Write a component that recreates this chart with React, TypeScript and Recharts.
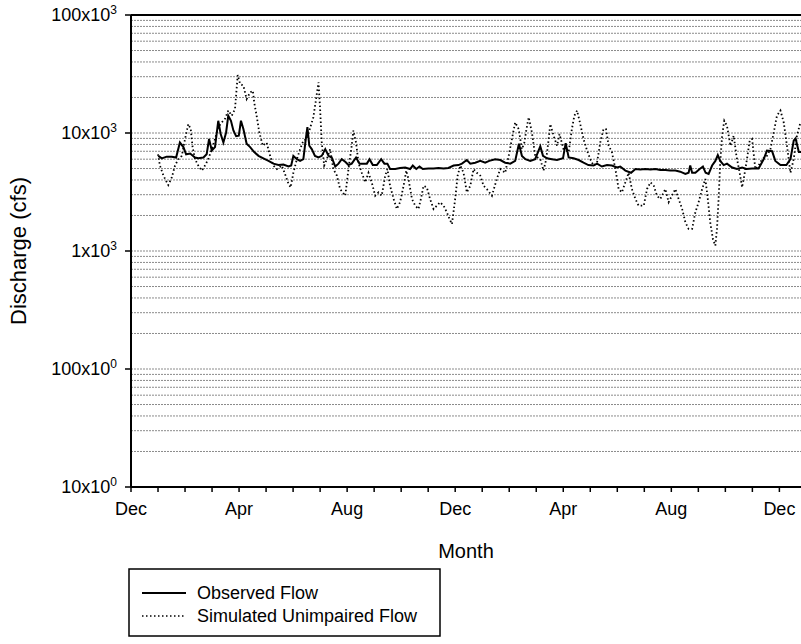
import { LineChart, Line, XAxis, YAxis, ReferenceLine, Label } from 'recharts';

const FONT = '"Liberation Sans", Arial, Helvetica, sans-serif';

// months since the first Dec tick
const obsMonth = [
  1.01, 1.14, 1.32, 1.51, 1.67, 1.81, 1.94, 2.04, 2.19, 2.37, 2.49, 2.68, 2.8, 2.89, 2.99, 3.11, 3.23, 3.32, 3.42, 3.52,
  3.6, 3.7, 3.79, 3.89, 3.99, 4.07, 4.16, 4.28, 4.41, 4.56, 4.72, 4.9, 5.09, 5.27, 5.46, 5.64, 5.83, 5.93, 6.01, 6.14,
  6.26, 6.38, 6.47, 6.53, 6.6, 6.69, 6.81, 6.94, 7.06, 7.19, 7.31, 7.43, 7.56, 7.68, 7.8, 7.93, 8.05, 8.17, 8.33, 8.46,
  8.6, 8.73, 8.83, 8.95, 9.1, 9.26, 9.38, 9.49, 9.59, 9.78, 9.96, 10.15, 10.33, 10.43, 10.56, 10.68, 10.8, 11.01, 11.2, 11.38,
  11.57, 11.75, 11.94, 12.12, 12.25, 12.43, 12.56, 12.74, 12.93, 13.11, 13.26, 13.48, 13.67, 13.85, 14.04, 14.22, 14.36, 14.47, 14.6, 14.78,
  14.96, 15.15, 15.25, 15.4, 15.58, 15.77, 15.99, 16.09, 16.2, 16.38, 16.57, 16.75, 16.93, 17.12, 17.25, 17.43, 17.62, 17.8, 17.99, 18.11,
  18.3, 18.51, 18.67, 18.85, 19.04, 19.23, 19.41, 19.59, 19.78, 19.96, 20.15, 20.33, 20.52, 20.64, 20.7, 20.77, 20.89, 21.05, 21.17, 21.27,
  21.38, 21.51, 21.63, 21.72, 21.81, 21.94, 22.06, 22.25, 22.43, 22.62, 22.78, 22.99, 23.23, 23.42, 23.54, 23.73, 23.85, 24.04, 24.26, 24.41,
  24.53, 24.6, 24.72, 24.81,
];
const obsFlow = [
  6400, 6100, 6300, 6300, 6200, 8300, 7600, 6600, 6700, 6200, 6100, 6200, 6600, 8900, 7100, 7600, 12700, 9800, 8300, 10100,
  14000, 12700, 10500, 9400, 9500, 12700, 10800, 8100, 7600, 6900, 6400, 6100, 5800, 5500, 5350, 5400, 5200, 5300, 6400, 6000,
  5800, 6000, 8900, 11200, 7800, 7300, 6400, 6200, 6400, 7300, 6400, 6200, 5200, 5500, 6000, 5700, 5350, 5500, 6200, 5500,
  5500, 5500, 6000, 5350, 5350, 6000, 5500, 5500, 4950, 4950, 5050, 5100, 4950, 5300, 4950, 5200, 4950, 5000, 5000, 5050,
  5000, 5050, 5300, 5350, 5500, 5900, 5500, 5600, 5800, 5600, 5800, 6000, 5900, 5600, 5500, 5800, 8100, 6400, 6000, 5800,
  6000, 7700, 6400, 6100, 6000, 5900, 6100, 8200, 6200, 6100, 5900, 5600, 5350, 5300, 5500, 5200, 5350, 5300, 5100, 5200,
  4800, 4600, 4950, 4900, 4950, 4900, 4950, 4850, 4850, 4800, 4800, 4700, 4500, 4600, 5300, 4600, 4600, 4950, 5200, 4600,
  4500, 5300, 5800, 6500, 5800, 5350, 5500, 5100, 4950, 5100, 4950, 5000, 5000, 6000, 7100, 7000, 5800, 5350, 5350, 6000,
  8600, 9000, 6900, 6900,
];

const simMonth = [
  1.0, 1.07, 1.2, 1.38, 1.51, 1.63, 1.75, 1.88, 2.0, 2.12, 2.21, 2.28, 2.37, 2.49, 2.62, 2.74, 2.86, 2.99, 3.11, 3.23,
  3.36, 3.48, 3.6, 3.73, 3.85, 3.95, 4.04, 4.16, 4.28, 4.41, 4.51, 4.56, 4.65, 4.75, 4.88, 5.02, 5.15, 5.27, 5.4, 5.58,
  5.7, 5.83, 5.91, 6.01, 6.14, 6.26, 6.38, 6.51, 6.75, 6.85, 6.94, 7.0, 7.06, 7.15, 7.25, 7.37, 7.49, 7.62, 7.74, 7.93,
  8.05, 8.17, 8.23, 8.33, 8.42, 8.54, 8.67, 8.79, 8.91, 9.04, 9.16, 9.28, 9.41, 9.49, 9.59, 9.72, 9.84, 9.96, 10.09, 10.19,
  10.27, 10.4, 10.52, 10.64, 10.73, 10.83, 10.95, 11.07, 11.2, 11.32, 11.44, 11.57, 11.69, 11.79, 11.88, 12.0, 12.09, 12.19, 12.31, 12.43,
  12.56, 12.68, 12.8, 12.93, 13.05, 13.17, 13.36, 13.54, 13.67, 13.85, 13.98, 14.1, 14.22, 14.35, 14.47, 14.56, 14.63, 14.72, 14.84, 14.96,
  15.15, 15.27, 15.37, 15.46, 15.52, 15.64, 15.77, 15.86, 16.01, 16.2, 16.32, 16.41, 16.51, 16.63, 16.75, 16.88, 17.0, 17.12, 17.25, 17.37,
  17.49, 17.58, 17.68, 17.8, 17.93, 18.05, 18.17, 18.3, 18.42, 18.54, 18.67, 18.79, 18.98, 19.1, 19.23, 19.35, 19.47, 19.59, 19.78, 19.9,
  20.02, 20.15, 20.27, 20.4, 20.52, 20.64, 20.77, 20.89, 21.01, 21.14, 21.26, 21.35, 21.44, 21.54, 21.63, 21.69, 21.75, 21.81, 21.88, 21.96,
  22.06, 22.19, 22.31, 22.41, 22.53, 22.62, 22.7, 22.8, 22.9, 22.99, 23.11, 23.23, 23.36, 23.54, 23.67, 23.79, 23.91, 24.04, 24.16, 24.28,
  24.41, 24.53, 24.65, 24.78,
];
const simFlow = [
  6600, 5300, 4350, 3620, 4200, 5300, 6000, 6400, 8900, 11900, 10800, 7600, 6000, 5300, 4800, 5300, 6000, 7300, 8900, 11200,
  12300, 13200, 15500, 14000, 16000, 31000, 26000, 25200, 19400, 22100, 22800, 18200, 14000, 10100, 7800, 8300, 6400, 5300, 4950, 5300,
  4500, 3700, 3460, 4600, 6000, 7300, 8600, 8900, 13600, 19400, 26900, 16000, 8300, 5300, 6000, 7300, 4950, 4350, 3350, 2940,
  4950, 7800, 10500, 8300, 5600, 4600, 3820, 4600, 3820, 2940, 3140, 2940, 4350, 4950, 3570, 2760, 2270, 2590, 3570, 4800,
  4080, 2760, 2420, 2270, 2760, 3570, 3460, 2760, 2270, 2420, 2590, 2420, 2130, 1870, 1690, 2760, 4350, 5300, 4600, 3140,
  3570, 4950, 4600, 4350, 3570, 3350, 2940, 4080, 4950, 4600, 6400, 8900, 12300, 10800, 7300, 8300, 10500, 13600, 10100, 6400,
  6000, 4800, 6000, 8900, 11900, 9500, 7800, 9800, 7300, 6900, 10800, 14000, 15500, 11900, 8900, 7100, 6000, 5300, 5600, 8300,
  10800, 10800, 7800, 6900, 4950, 3350, 3140, 3820, 4600, 3350, 2760, 2420, 2420, 3350, 3820, 3570, 2940, 2760, 3350, 2590,
  2940, 3350, 2760, 2270, 1750, 1540, 1540, 2130, 2590, 3350, 4080, 2760, 1750, 1260, 1110, 1540, 2760, 5600, 9500, 12700,
  11500, 7800, 9500, 6400, 4600, 3460, 4350, 6000, 8600, 8900, 4950, 5300, 6000, 6400, 7300, 10100, 14000, 15500, 12300, 7800,
  4600, 6000, 9500, 12300,
];

const xTicks = [0, 1, 2, 3, 4, 5, 6, 7, 8, 9, 10, 11, 12, 13, 14, 15, 16, 17, 18, 19, 20, 21, 22, 23, 24];
const xMajor = [0, 4, 8, 12, 16, 20, 24];
const xLabels = ['Dec', 'Apr', 'Aug', 'Dec', 'Apr', 'Aug', 'Dec'];

const yTicks = [10, 100, 1000, 10000, 100000];
const yTickBase = ['10x10', '100x10', '1x10', '10x10', '100x10'];
const yTickExp = ['0', '0', '3', '3', '3'];

const gridValues = [
  20, 30, 40, 50, 60, 70, 80, 90, 100,
  200, 300, 400, 500, 600, 700, 800, 900, 1000,
  2000, 3000, 4000, 5000, 6000, 7000, 8000, 9000, 10000,
  20000, 30000, 40000, 50000, 60000, 70000, 80000, 90000,
];

const obsData = obsMonth.map((m, i) => ({ m, flow: obsFlow[i] }));
const simData = simMonth.map((m, i) => ({ m, flow: simFlow[i] }));

function YTick({ x, y, payload }: any) {
  const i = yTicks.indexOf(payload.value);
  if (i < 0) return <g />;
  return (
    <text x={x} y={y} dy={6} textAnchor="end" fontSize={18} fontFamily={FONT} fill="#000">
      {yTickBase[i]}
      <tspan dy={-7} fontSize={12}>{yTickExp[i]}</tspan>
    </text>
  );
}

function XTick({ x, y, payload }: any) {
  const i = xMajor.indexOf(payload.value);
  if (i < 0) return <g />;
  return (
    <text x={x} y={y} dy={21} textAnchor="middle" fontSize={18} fontFamily={FONT} fill="#000">
      {xLabels[i]}
    </text>
  );
}

export default function App() {
  return (
    <div style={{ position: 'absolute', left: 0, top: 0, width: 801, height: 644, background: '#fff' }}>
      <LineChart width={801} height={600} margin={{ top: 15, right: 0, bottom: 33, left: 0 }}>
        <XAxis
          type="number"
          dataKey="m"
          domain={[0, 24.8]}
          ticks={xTicks}
          interval={0}
          tick={<XTick />}
          tickSize={5}
          axisLine={{ stroke: '#000', strokeWidth: 2 }}
          tickLine={{ stroke: '#000', strokeWidth: 1.5 }}
          height={80}
          allowDataOverflow
        >
          <Label
            content={({ viewBox }: any) => (
              <text x={viewBox.x + viewBox.width / 2} y={558} textAnchor="middle" fontSize={20} fontFamily={FONT} fill="#000">
                Month
              </text>
            )}
          />
        </XAxis>
        <YAxis
          scale="log"
          domain={[10, 100000]}
          ticks={yTicks}
          interval={0}
          tick={<YTick />}
          tickSize={6}
          tickMargin={8}
          width={131}
          axisLine={{ stroke: '#000', strokeWidth: 2 }}
          tickLine={{ stroke: '#000', strokeWidth: 1.5 }}
          allowDataOverflow
        >
          <Label
            content={({ viewBox }: any) => (
              <text
                x={26}
                y={viewBox.y + viewBox.height / 2}
                transform={`rotate(-90, 26, ${viewBox.y + viewBox.height / 2})`}
                textAnchor="middle"
                fontSize={22}
                fontFamily={FONT}
                fill="#000"
              >
                Discharge (cfs)
              </text>
            )}
          />
        </YAxis>
        {gridValues.map(v => (
          <ReferenceLine key={v} y={v} stroke="#8a8a8a" strokeWidth={1} strokeDasharray="2 1" />
        ))}
        <ReferenceLine y={100000} stroke="#000" strokeWidth={2} />
        <Line
          data={simData}
          dataKey="flow"
          type="linear"
          stroke="#000"
          strokeWidth={1.8}
          strokeDasharray="1.5 2.5"
          dot={false}
          isAnimationActive={false}
        />
        <Line
          data={obsData}
          dataKey="flow"
          type="linear"
          stroke="#000"
          strokeWidth={2}
          dot={false}
          isAnimationActive={false}
        />
      </LineChart>
      <svg
        width={313}
        height={69}
        style={{ position: 'absolute', left: 128, top: 568 }}
      >
        <rect x={1} y={1} width={311} height={67} fill="#fff" stroke="#000" strokeWidth={1.5} />
        <line x1={14} y1={25} x2={58} y2={25} stroke="#000" strokeWidth={2} />
        <line x1={14} y1={48} x2={58} y2={48} stroke="#000" strokeWidth={1.6} strokeDasharray="1.5 2.5" />
        <text x={69} y={31} fontSize={18} fontFamily={FONT} fill="#000">Observed Flow</text>
        <text x={69} y={54} fontSize={18} fontFamily={FONT} fill="#000">Simulated Unimpaired Flow</text>
      </svg>
    </div>
  );
}
